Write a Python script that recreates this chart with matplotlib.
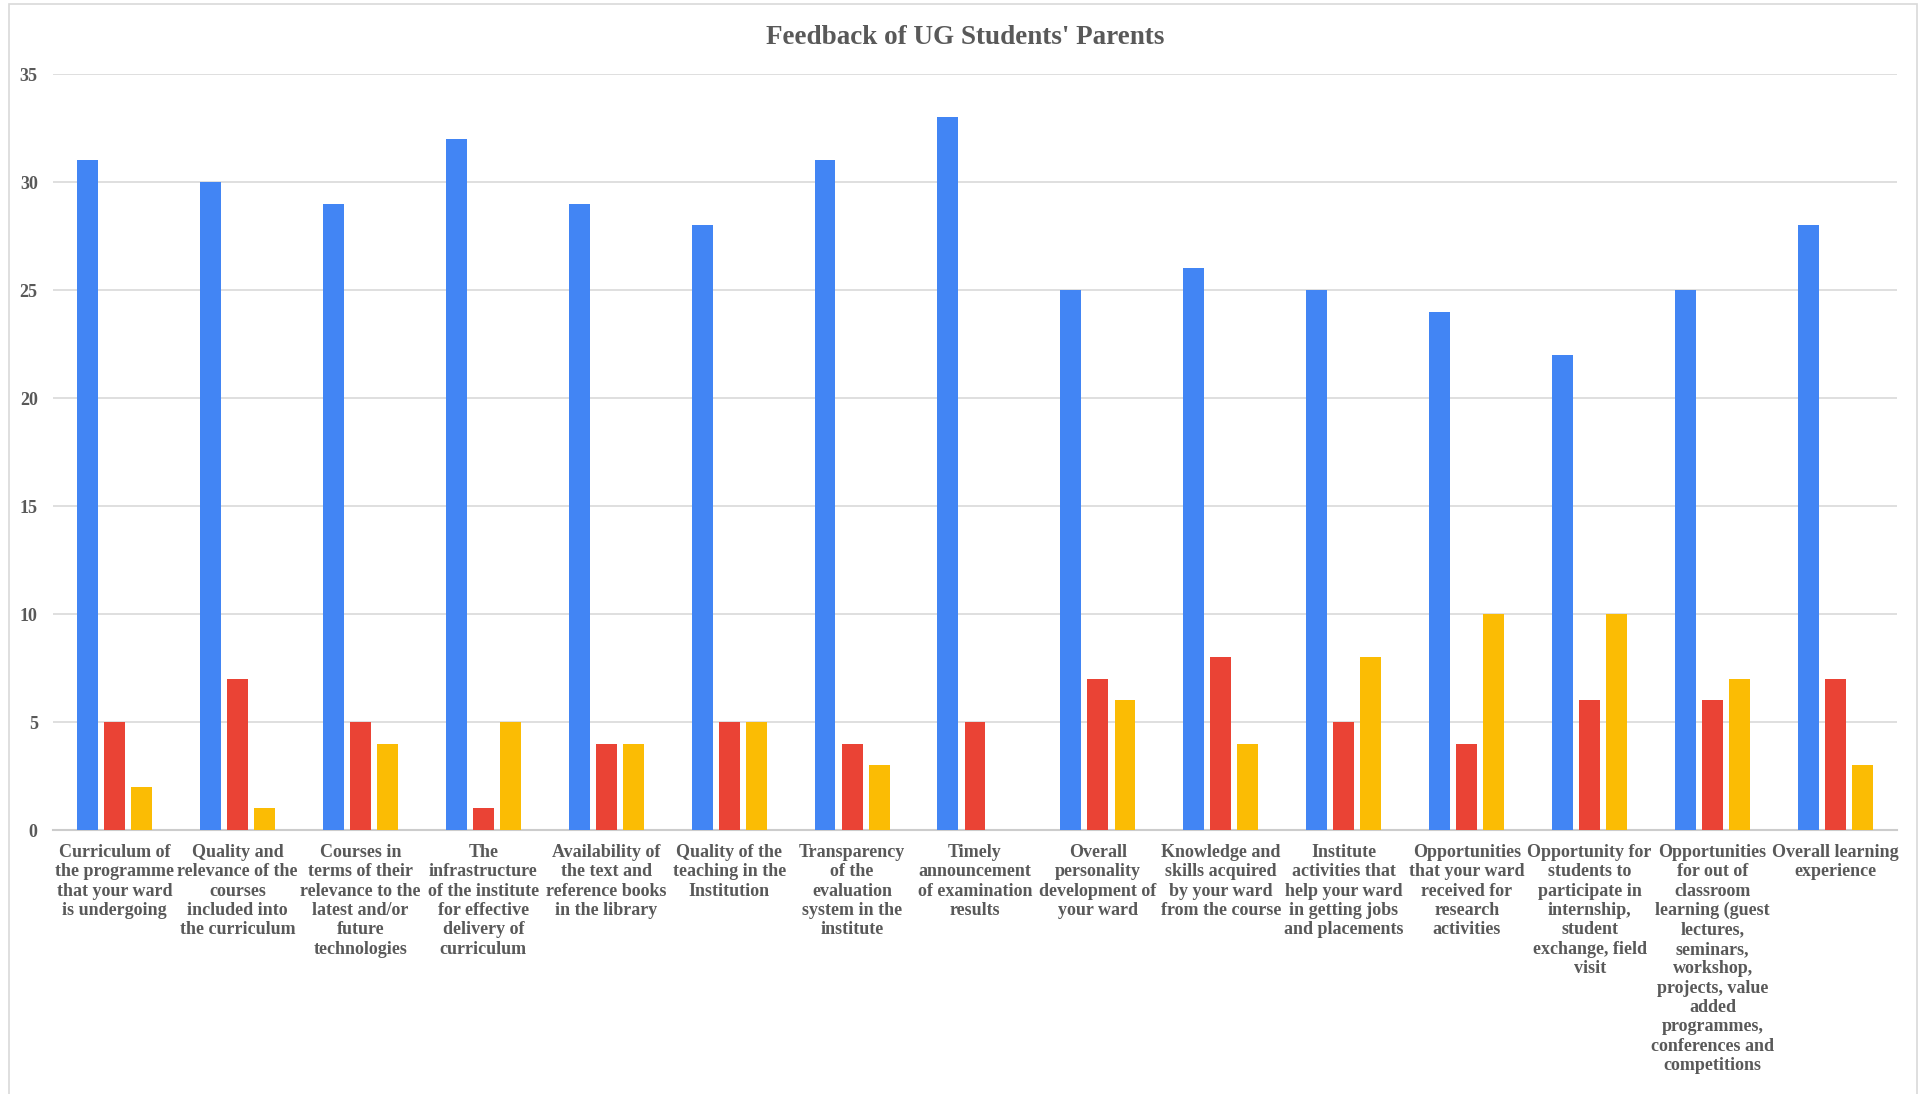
import matplotlib.pyplot as plt
import numpy as np
from matplotlib.patches import Rectangle

plt.rcParams['font.family'] = ['Liberation Serif', 'DejaVu Serif']

# categories (wrapped like the original)
categories = [
    "Curriculum of\nthe programme\nthat your ward\nis undergoing",
    "Quality and\nrelevance of the\ncourses\nincluded into\nthe curriculum",
    "Courses in\nterms of their\nrelevance to the\nlatest and/or\nfuture\ntechnologies",
    "The\ninfrastructure\nof the institute\nfor effective\ndelivery of\ncurriculum",
    "Availability of\nthe text and\nreference books\nin the library",
    "Quality of the\nteaching in the\nInstitution",
    "Transparency\nof the\nevaluation\nsystem in the\ninstitute",
    "Timely\nannouncement\nof examination\nresults",
    "Overall\npersonality\ndevelopment of\nyour ward",
    "Knowledge and\nskills acquired\nby your ward\nfrom the course",
    "Institute\nactivities that\nhelp your ward\nin getting jobs\nand placements",
    "Opportunities\nthat your ward\nreceived for\nresearch\nactivities",
    "Opportunity for\nstudents to\nparticipate in\ninternship,\nstudent\nexchange, field\nvisit",
    "Opportunities\nfor out of\nclassroom\nlearning (guest\nlectures,\nseminars,\nworkshop,\nprojects, value\nadded\nprogrammes,\nconferences and\ncompetitions",
    "Overall learning\nexperience",
]

blue_vals = [31, 30, 29, 32, 29, 28, 31, 33, 25, 26, 25, 24, 22, 25, 28]
red_vals = [5, 7, 5, 1, 4, 5, 4, 5, 7, 8, 5, 4, 6, 6, 7]
yellow_vals = [2, 1, 4, 5, 4, 5, 3, 0, 6, 4, 8, 10, 10, 7, 3]

yticks = [0, 5, 10, 15, 20, 25, 30, 35]

fig = plt.figure(figsize=(19.24, 10.94), dpi=100)
ax = fig.add_axes([0.02755, 0.2413, 0.9584, 0.691])

x = np.arange(len(categories))
w = 0.17
off = 0.22
ax.bar(x - off, blue_vals, w, color='#4285F4', zorder=3)
ax.bar(x, red_vals, w, color='#EA4335', zorder=3)
ax.bar(x + off, yellow_vals, w, color='#FBBC04', zorder=3)

ax.set_xlim(-0.5, len(categories) - 0.5)
ax.set_ylim(0, 35)
ax.set_yticks(yticks)
ax.grid(axis='y', color='#d9d9d9', linewidth=1.2, zorder=0)
for s in ['top', 'right', 'left']:
    ax.spines[s].set_visible(False)
ax.spines['bottom'].set_color('#cccccc')
ax.spines['bottom'].set_linewidth(1.5)

ax.set_xticks(x)
ax.set_xticklabels(categories, fontsize=13, fontweight='bold', color='#595959',
                   linespacing=1.18, va='top')
ax.tick_params(axis='x', length=0, pad=10)
ax.tick_params(axis='y', length=0, pad=11, labelsize=13, labelcolor='#595959')
for t in ax.get_yticklabels():
    t.set_fontweight('bold')

fig.text(0.5016, 0.966, "Feedback of UG Students' Parents", ha='center', va='center',
         fontsize=19.5, fontweight='bold', color='#595959')

# light frame around the chart
fig.patches.append(Rectangle((9 / 1924, -0.01), 1908 / 1924, 1.01 - 4 / 1094,
                             transform=fig.transFigure, fill=False,
                             edgecolor='#d9d9d9', linewidth=1.2))

fig.savefig('out.png', dpi=100)
